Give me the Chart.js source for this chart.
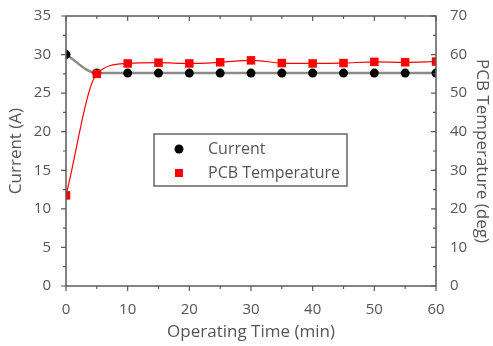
<!DOCTYPE html>
<html>
<head>
<meta charset="utf-8">
<script src="https://cdn.jsdelivr.net/npm/chart.js@4"></script>
<style>
  html, body { margin: 0; padding: 0; background: #fff; }
  #wrap { width: 493px; height: 346px; }
</style>
</head>
<body>
<div id="wrap"><canvas id="pcb-chart" width="493" height="346"></canvas></div>
<script>
// values
const times = [0, 5, 10, 15, 20, 25, 30, 35, 40, 45, 50, 55, 60];
const current = [30, 27.6, 27.6, 27.6, 27.6, 27.6, 27.6, 27.6, 27.6, 27.6, 27.6, 27.6, 27.6];
const pcbTemp = [23.5, 55, 57.7, 57.9, 57.7, 58, 58.5, 57.8, 57.7, 57.8, 58.1, 58, 58.2];
const currentTicks = [0, 5, 10, 15, 20, 25, 30, 35];
const tempTicks = [0, 10, 20, 30, 40, 50, 60, 70];
const timeTicks = [0, 10, 20, 30, 40, 50, 60];

const axisColor = '#5a5a5a';
const textColor = '#555';
const fontFamily = "'Open Sans', 'Noto Sans', sans-serif";

// frame, tick marks and legend box
const decor = {
    id: 'decor',
    afterDraw(chart) {
        const ctx = chart.ctx;
        const a = chart.chartArea;
        const x = chart.scales.x, y = chart.scales.y, y2 = chart.scales.y2;
        ctx.save();
        ctx.strokeStyle = axisColor;
        ctx.lineWidth = 1.5;
        ctx.strokeRect(a.left, a.top, a.right - a.left, a.bottom - a.top);

        ctx.lineWidth = 1.2;
        ctx.beginPath();
        // left axis, outward
        for (let v = 0; v <= 35; v += 2.5) {
            const p = y.getPixelForValue(v);
            const len = (v % 5 === 0) ? 5 : 3;
            ctx.moveTo(a.left, p); ctx.lineTo(a.left - len, p);
        }
        // right axis, inward
        for (let v = 0; v <= 70; v += 5) {
            const p = y2.getPixelForValue(v);
            const len = (v % 10 === 0) ? 5 : 3;
            ctx.moveTo(a.right, p); ctx.lineTo(a.right - len, p);
        }
        // bottom outward, top inward
        for (let v = 0; v <= 60; v += 5) {
            const p = x.getPixelForValue(v);
            const len = (v % 10 === 0) ? 5 : 3;
            ctx.moveTo(p, a.bottom); ctx.lineTo(p, a.bottom + len);
            ctx.moveTo(p, a.top); ctx.lineTo(p, a.top + len);
        }
        ctx.stroke();

        // legend
        const lx = a.left + 88, ly = a.top + 118;
        ctx.lineWidth = 1.5;
        ctx.strokeStyle = '#666';
        ctx.strokeRect(lx, ly, 193, 52);
        ctx.fillStyle = '#000';
        ctx.beginPath();
        ctx.arc(lx + 25, ly + 15, 4.5, 0, Math.PI * 2);
        ctx.fill();
        ctx.fillStyle = '#ff0000';
        ctx.fillRect(lx + 21, ly + 35, 8, 8);
        ctx.fillStyle = textColor;
        ctx.font = '16px ' + fontFamily;
        ctx.textBaseline = 'middle';
        ctx.fillText('Current', lx + 54, ly + 15);
        ctx.fillText('PCB Temperature', lx + 54, ly + 39);
        ctx.restore();
    }
};

const data = {
    datasets: [{
        label: 'PCB Temperature',
        yAxisID: 'y2',
        data: times.map((t, i) => ({x: t, y: pcbTemp[i]})),
        borderColor: '#ff0000',
        backgroundColor: '#ff0000',
        borderWidth: 1.2,
        pointStyle: 'rect',
        pointRadius: 6,
        pointBorderWidth: 0,
        cubicInterpolationMode: 'monotone',
        order: 1
    }, {
        label: 'Current',
        yAxisID: 'y',
        data: times.map((t, i) => ({x: t, y: current[i]})),
        borderColor: '#8a8a8a',
        backgroundColor: '#000',
        borderWidth: 2.5,
        pointStyle: 'circle',
        pointRadius: 4.5,
        pointBorderWidth: 0,
        cubicInterpolationMode: 'monotone',
        order: 2
    }]
};

const tickFont = { family: fontFamily, size: 15 };
const titleFont = { family: fontFamily, size: 17 };

const config = {
    type: 'line',
    data: data,
    plugins: [decor],
    options: {
        responsive: false,
        animation: false,
        layout: { padding: { top: 15, left: 0, right: 0, bottom: 0 } },
        scales: {
            x: {
                type: 'linear',
                min: 0, max: 60,
                afterFit: s => { s.height = 60; },
                afterBuildTicks: s => { s.ticks = timeTicks.map(v => ({value: v})); },
                grid: { display: false },
                border: { display: false },
                ticks: { color: textColor, font: tickFont, padding: 7, maxRotation: 0 },
                title: { display: true, text: 'Operating Time (min)', color: textColor, font: titleFont, padding: { top: 0, bottom: 4 } }
            },
            y: {
                position: 'left',
                min: 0, max: 35,
                afterFit: s => { s.width = 66; },
                afterBuildTicks: s => { s.ticks = currentTicks.map(v => ({value: v})); },
                grid: { display: false },
                border: { display: false },
                ticks: { color: textColor, font: tickFont, padding: 7 },
                title: { display: true, text: 'Current (A)', color: textColor, font: titleFont, padding: { top: 6, bottom: 0 } }
            },
            y2: {
                position: 'right',
                min: 0, max: 70,
                afterFit: s => { s.width = 57; },
                afterBuildTicks: s => { s.ticks = tempTicks.map(v => ({value: v})); },
                grid: { display: false },
                border: { display: false },
                ticks: { color: textColor, font: tickFont, padding: 6 },
                title: { display: true, text: 'PCB Temperature (deg)', color: textColor, font: titleFont, padding: { top: 1, bottom: 0 } }
            }
        },
        plugins: {
            legend: { display: false },
            tooltip: { enabled: false }
        }
    }
};

new Chart(document.getElementById('pcb-chart').getContext('2d'), config);
</script>
</body>
</html>
